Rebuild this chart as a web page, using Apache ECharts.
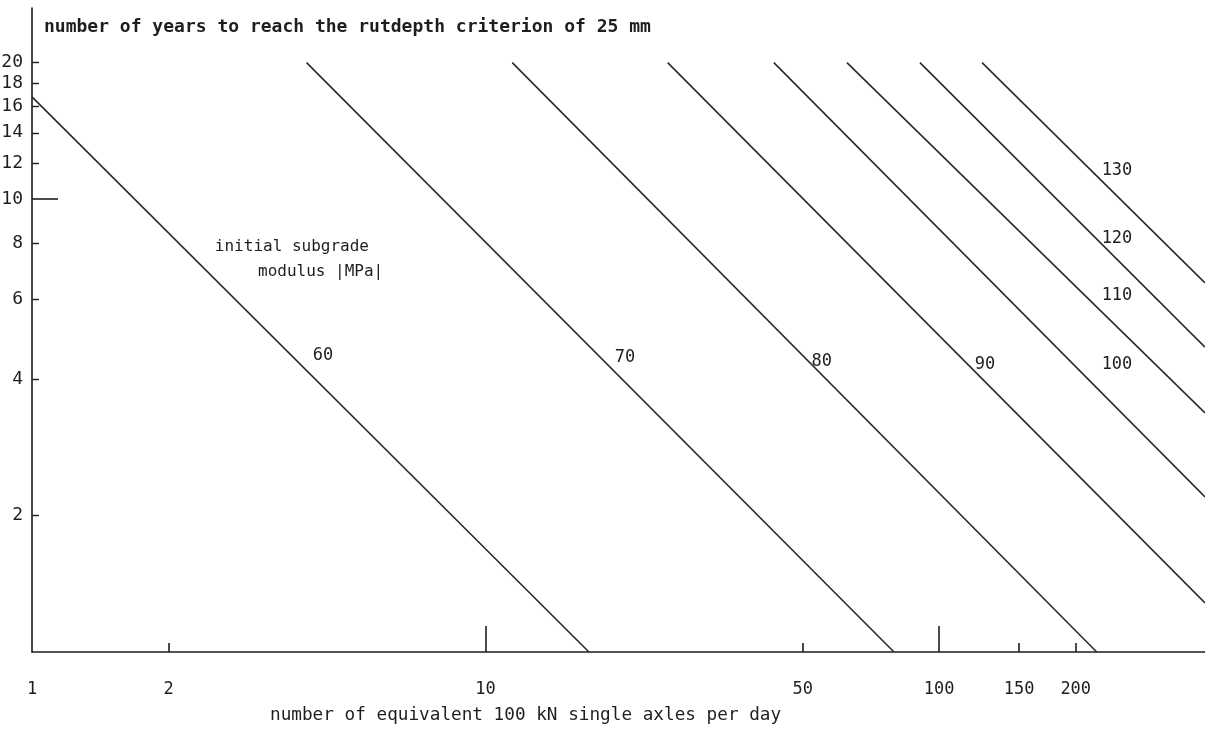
<!DOCTYPE html>
<html lang="en">

<head>
    <meta charset="UTF-8">
    <title>Rut depth criterion</title>
    <script src="https://cdn.jsdelivr.net/npm/echarts@6.0.0/dist/echarts.min.js"></script>
    <style>
        body { margin: 0; background: #fff; }
    </style>
</head>

<body>
    <div id="main" style="width: 1205px;height:731px;"></div>
    <script type="text/javascript">
    // axis ticks (log-log paper)
    const xLabelValues = [1, 2, 10, 50, 100, 150, 200];
    const xShortTicks = [2, 50, 150, 200];
    const xLongTicks = [10, 100];
    const yLabelValues = [2, 4, 6, 8, 10, 12, 14, 16, 18, 20];
    const yShortTicks = [2, 4, 6, 8, 12, 14, 16, 18, 20];
    const yLongTicks = [10];

    // one line per initial subgrade modulus [MPa]: start and end point (axles/day, years)
    const moduli = ['60', '70', '80', '90', '100', '110', '120', '130'];
    const lineStart = [[1, 16.8], [4.03, 20], [11.45, 20], [25.2, 20], [43.2, 20], [62.6, 20], [90.7, 20], [124.3, 20]];
    const lineEnd = [[16.9, 1], [79.5, 1], [222.5, 1], [385.5, 1.283], [385.5, 2.20], [385.5, 3.37], [385.5, 4.71], [385.5, 6.53]];
    // where the modulus numbers are written
    const modulusLabelAt = [[4.38, 4.52], [20.3, 4.46], [55.1, 4.37], [126.2, 4.32], [246.6, 4.32], [246.6, 6.11], [246.6, 8.16], [246.6, 11.53]];

    const xMin = 1, xMax = 385.5;
    const yMin = 1, yMax = 26.4;

    const ink = '#1e1e1e';
    const mono = 'DejaVu Sans Mono';

    const chart = echarts.init(document.getElementById('main'));

    const lineSeries = moduli.map((m, i) => ({
        name: m,
        type: 'line',
        data: [lineStart[i], lineEnd[i]],
        showSymbol: false,
        silent: true,
        lineStyle: { color: '#2a2a2a', width: 1.6 }
    }));

    const labelSeries = {
        type: 'scatter',
        symbolSize: 0,
        silent: true,
        itemStyle: { opacity: 1, color: 'transparent' },
        data: moduli.map((m, i) => ({ name: m, value: modulusLabelAt[i] })),
        label: {
            show: true,
            position: 'inside',
            formatter: p => p.name,
            color: ink,
            fontFamily: mono,
            fontSize: 17
        }
    };

    const noteSeries = {
        type: 'scatter',
        symbolSize: 0,
        silent: true,
        itemStyle: { opacity: 1, color: 'transparent' },
        data: [
            { name: 'initial subgrade', value: [2.53, 7.83] },
            { name: 'modulus |MPa|', value: [3.15, 6.90] }
        ],
        label: {
            show: true,
            position: 'right',
            distance: 0,
            formatter: p => p.name,
            color: ink,
            fontFamily: mono,
            fontSize: 16
        }
    };

    const baseX = {
        type: 'log',
        min: xMin,
        max: xMax,
        position: 'bottom',
        splitLine: { show: false },
        minorTick: { show: false }
    };
    const baseY = {
        type: 'log',
        min: yMin,
        max: yMax,
        position: 'left',
        splitLine: { show: false },
        minorTick: { show: false }
    };

    chart.setOption({
        animation: false,
        backgroundColor: '#fff',
        title: [{
            text: 'number of years to reach the rutdepth criterion of 25 mm',
            left: 44,
            top: 18,
            padding: 0,
            textStyle: { fontFamily: mono, fontWeight: 'bold', fontSize: 18, color: ink }
        }, {
            text: 'number of equivalent 100 kN single axles per day',
            left: 270,
            top: 706,
            padding: 0,
            textStyle: { fontFamily: mono, fontWeight: 'normal', fontSize: 17.7, color: ink }
        }],
        grid: { left: 32, right: 0, top: 8, bottom: 79, outerBoundsMode: 'none' },
        xAxis: [Object.assign({}, baseX, {
            axisLine: { show: true, lineStyle: { color: ink, width: 1.6 } },
            axisTick: { show: true, inside: true, length: 9, customValues: xShortTicks, lineStyle: { color: ink, width: 1.6 } },
            axisLabel: {
                show: true, customValues: xLabelValues, margin: 29,
                formatter: v => String(Math.round(v)),
                color: ink, fontFamily: mono, fontSize: 17
            }
        }), Object.assign({}, baseX, {
            axisLine: { show: false },
            axisTick: { show: true, inside: true, length: 26, customValues: xLongTicks, lineStyle: { color: ink, width: 1.6 } },
            axisLabel: { show: false }
        })],
        yAxis: [Object.assign({}, baseY, {
            axisLine: { show: true, lineStyle: { color: ink, width: 1.6 } },
            axisTick: { show: true, inside: true, length: 7, customValues: yShortTicks, lineStyle: { color: ink, width: 1.4 } },
            axisLabel: {
                show: true, customValues: yLabelValues, margin: 9,
                formatter: v => String(Math.round(v)),
                color: ink, fontFamily: mono, fontSize: 18
            }
        }), Object.assign({}, baseY, {
            axisLine: { show: false },
            axisTick: { show: true, inside: true, length: 26, customValues: yLongTicks, lineStyle: { color: ink, width: 1.6 } },
            axisLabel: { show: false }
        })],
        series: lineSeries.concat([labelSeries, noteSeries])
    });
    </script>
</body>

</html>
